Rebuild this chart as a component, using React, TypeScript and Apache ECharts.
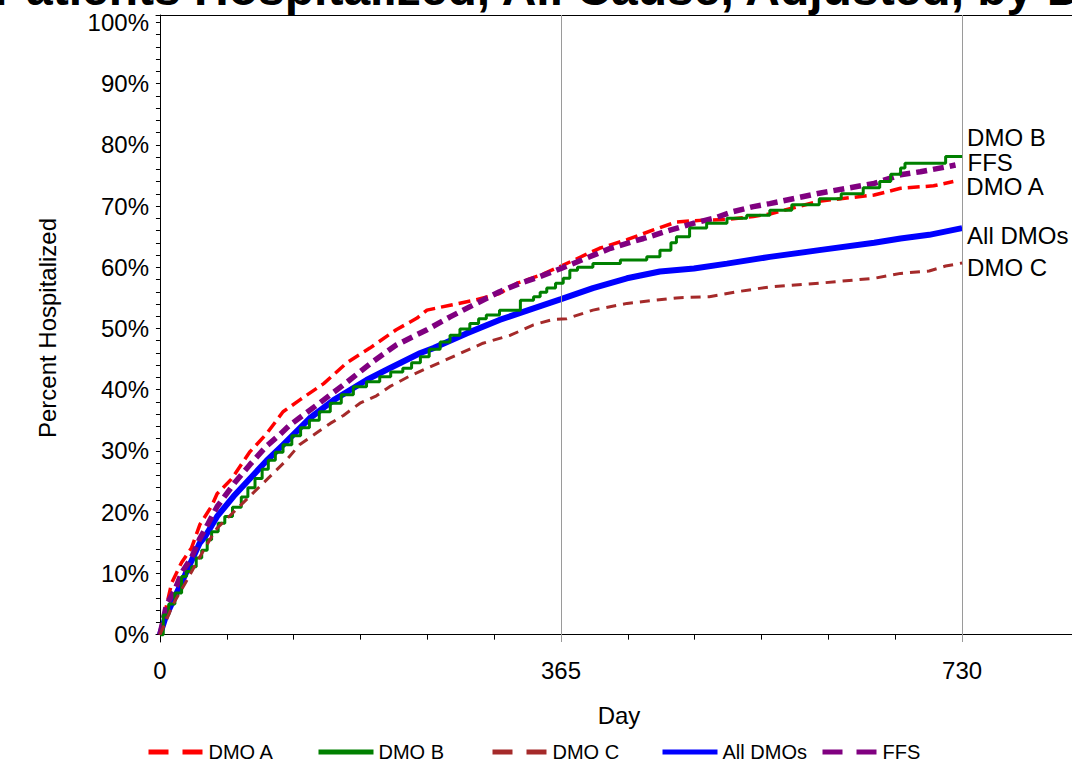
import React, { useEffect, useRef } from "react";
import * as echarts from "echarts";

const FONT = "'Liberation Sans', Arial, sans-serif";

const SERIES_NAMES = ["DMO A", "DMO B", "DMO C", "All DMOs", "FFS"];
const LEGEND_LEFT = [146, 316, 490, 660, 820];

const X_TICKS = [0, 60.83, 121.67, 182.5, 243.33, 304.17, 365, 425.83, 486.67, 547.5, 608.33, 669.17, 730];
const X_LABELS = [0, 365, 730];
const X_GRIDLINES = [365, 730];
const Y_LABELS = [0, 10, 20, 30, 40, 50, 60, 70, 80, 90, 100];
const Y_TICKS = [0, 2, 4, 6, 8, 10, 12, 14, 16, 18, 20, 22, 24, 26, 28, 30, 32, 34, 36, 38, 40, 42, 44, 46, 48, 50, 52, 54, 56, 58, 60, 62, 64, 66, 68, 70, 72, 74, 76, 78, 80, 82, 84, 86, 88, 90, 92, 94, 96, 98, 100];

const dmoA = [
  [0, 0], [5, 4], [10.6, 8.4], [19.7, 11.8], [28.8, 14.2], [36.4, 18.0], [47, 21.0], [52, 23.0], [65, 25.4], [82, 29.9],
  [97, 32.8], [112, 36.4], [127, 38.3], [149, 41.0], [170, 44.4], [191, 46.8], [215, 49.8], [234, 51.7], [243, 53.0],
  [264, 53.8], [288, 54.7], [309, 55.7], [325, 57.4], [346, 58.7], [365, 60.2], [400, 63.1], [425, 64.5], [449, 66.1],
  [470, 67.4], [495, 67.7], [516, 67.8], [540, 68.3], [555, 68.7], [600, 70.8], [650, 71.8], [674, 72.9], [704, 73.3],
  [722, 74.0],
];

const dmoB = [
  [0, 0], [3, 3.2], [8, 5.0], [13.6, 6.8], [19.7, 9.5], [24, 10.3], [28.8, 11.1], [33, 12.5], [38, 13.8], [43, 15.5],
  [47, 16.8], [53, 18.2], [59, 19.3], [66, 20.8], [74, 22.5], [80, 24.0], [86.5, 25.5], [93, 27.0], [98.6, 28.5],
  [105, 29.8], [112, 31.0], [120, 32.5], [128, 33.8], [136, 35.0], [145, 36.4], [155, 37.8], [165, 39.2], [176, 40.5],
  [188, 41.3], [200, 42.1], [210, 42.9], [221, 43.5], [229, 44.4], [237, 45.4], [245, 46.6], [255, 47.8], [264, 48.9],
  [273, 49.9], [282, 50.8], [290, 51.6], [297, 52.2], [309, 53.0], [328, 54.6], [340, 55.2], [346, 55.9], [352, 56.6],
  [360, 57.4], [367, 58.2], [373, 59.5], [380, 60.0], [394, 60.6], [419, 61.2], [443, 61.7], [455, 62.8], [465, 64.0],
  [470, 65.0], [482, 66.4], [497.5, 67.2], [516, 68.0], [534, 68.5], [555, 69.3], [575, 70.2], [600, 71.2], [620, 72.0],
  [640, 73.0], [655, 74.0], [665, 75.2], [674, 76.2], [678, 77.0], [715, 78.1], [730, 78.1],
];

const dmoC = [
  [0, 0], [5, 2.0], [12, 5.0], [23, 8.4], [35, 12.3], [47, 16.0], [52, 17.4], [67, 20.0], [84, 23.0], [100, 25.8],
  [114, 28.3], [127, 31.0], [143, 33.0], [155, 34.5], [167, 35.8], [182, 37.8], [197, 39.0], [209, 40.5], [228, 42.3],
  [258, 44.7], [294, 47.6], [319, 48.9], [340, 50.6], [358, 51.5], [370, 51.6], [394, 53.0], [425, 54.1], [470, 55.0],
  [500, 55.2], [525, 56.0], [555, 56.8], [600, 57.4], [650, 58.2], [674, 59.0], [700, 59.4], [715, 60.2], [730, 60.7],
];

const allDmos = [
  [0, 0], [5, 2.8], [13.6, 6.2], [21, 9.0], [26, 11.0], [36, 14.9], [41, 16.0], [52, 19.3], [67, 22.6], [82, 25.5],
  [97, 28.4], [112, 31.0], [136, 35.3], [158, 38.3], [188, 41.6], [209, 43.5], [237, 46.0], [249, 46.8], [279, 49.2],
  [309, 51.4], [340, 53.3], [365, 54.8], [394, 56.6], [425, 58.2], [455, 59.3], [486, 59.8], [516, 60.6], [555, 61.7],
  [600, 62.8], [650, 64.0], [674, 64.7], [700, 65.3], [730, 66.4],
];

const ffs = [
  [0, 0], [6, 4.9], [13.6, 7.3], [20, 10.2], [29, 12.7], [36, 15.6], [44, 18.2], [52, 20.9], [68, 24.8], [82, 27.8],
  [97, 30.8], [108, 32.5], [118, 34.2], [145, 37.8], [170, 41.2], [193, 44.5], [215, 47.3], [234, 49.0], [243, 49.8],
  [264, 51.9], [288, 54.1], [309, 56.0], [328, 57.4], [346, 58.5], [365, 59.8], [388, 61.5], [410, 63.1], [440, 64.7],
  [465, 66.1], [486, 67.2], [504, 68.0], [522, 69.1], [540, 69.9], [555, 70.4], [600, 72.1], [650, 73.7], [674, 75.1],
  [692, 75.6], [716, 76.4], [724, 76.7],
];

const LEGEND_DASH: Record<string, any> = {
  "DMO A": [20, 14],
  "DMO B": "solid",
  "DMO C": [20, 14],
  "All DMOs": "solid",
  FFS: [20, 14],
};

export default function App() {
  const ref = useRef<HTMLDivElement>(null);
  useEffect(() => {
    if (!ref.current) return;
    const chart = echarts.init(ref.current, undefined, { renderer: "svg" });

    const line = (
      name: string,
      data: number[][],
      color: string,
      width: number,
      type: any,
      z: number,
      offset: number[],
      step?: string
    ) => ({
      type: "line",
      name,
      data,
      step: step || false,
      showSymbol: false,
      symbol: "none",
      z,
      clip: false,
      lineStyle: { color, width, type, cap: "butt" },
      itemStyle: { color },
      emphasis: { disabled: true },
      endLabel: {
        show: true,
        formatter: () => name,
        offset,
        fontSize: 24,
        color: "#000",
        fontFamily: FONT,
      },
    });

    const legends = SERIES_NAMES.map((n, i) => ({
      data: [{ name: n, lineStyle: { type: LEGEND_DASH[n], width: 5 } }],
      left: LEGEND_LEFT[i],
      top: 742,
      padding: 0,
      itemWidth: 55,
      itemHeight: 14,
      itemStyle: { opacity: 0 },
      textStyle: { fontSize: 20, color: "#000", fontFamily: FONT },
      selectedMode: false,
    }));

    chart.setOption({
      animation: false,
      backgroundColor: "#fff",
      grid: { left: 156, right: 0, top: 15, bottom: 123, containLabel: false },
      xAxis: [
        {
          type: "value",
          min: -3.6,
          max: 830,
          axisLine: { show: true, lineStyle: { color: "#000", width: 1 } },
          axisTick: { show: true, length: 5, customValues: X_TICKS, lineStyle: { color: "#000" } },
          axisLabel: {
            show: true,
            customValues: X_LABELS,
            margin: 16,
            fontSize: 24,
            color: "#000",
            fontFamily: FONT,
          },
          splitLine: { show: false },
        },
        {
          type: "value",
          position: "top",
          min: -3.6,
          max: 830,
          axisLine: { show: true, lineStyle: { color: "#000", width: 1 } },
          axisTick: { show: false },
          axisLabel: { show: false },
          splitLine: { show: false },
        },
      ],
      yAxis: {
        type: "value",
        min: -1.2,
        max: 101.2,
        axisLine: { show: true, lineStyle: { color: "#000", width: 1 } },
        axisTick: { show: true, length: 4, customValues: Y_TICKS, lineStyle: { color: "#000" } },
        axisLabel: {
          show: true,
          customValues: Y_LABELS,
          formatter: (v: number) => `${v}%`,
          margin: 7,
          fontSize: 24,
          color: "#000",
          fontFamily: FONT,
        },
        splitLine: { show: false },
      },
      legend: legends,
      graphic: [
        {
          type: "text",
          left: -6,
          top: -36,
          style: {
            text: "Patients Hospitalized, All Cause, Adjusted, by DMO",
            fontSize: 48,
            fontWeight: "bold",
            fill: "#000",
            fontFamily: FONT,
          },
        },
        {
          type: "text",
          x: 47,
          y: 328,
          rotation: Math.PI / 2,
          style: {
            text: "Percent Hospitalized",
            fontSize: 24,
            fill: "#000",
            align: "center",
            verticalAlign: "middle",
            fontFamily: FONT,
          },
        },
        {
          type: "text",
          x: 619,
          y: 715,
          style: {
            text: "Day",
            fontSize: 24,
            fill: "#000",
            align: "center",
            verticalAlign: "middle",
            fontFamily: FONT,
          },
        },
      ],
      series: [
        line(SERIES_NAMES[0], dmoA, "#ff0000", 3.5, [12, 6], 4, [5, 5]),
        line(SERIES_NAMES[1], dmoB, "#008000", 3, "solid", 6, [-3, -19], "end"),
        line(SERIES_NAMES[2], dmoC, "#a52a2a", 3, [10, 7], 7, [-3, 5]),
        line(SERIES_NAMES[3], allDmos, "#0000ff", 6, "solid", 3, [-3, 7]),
        line(SERIES_NAMES[4], ffs, "#800080", 5.5, [11, 6], 5, [4, -3]),
        {
          type: "line",
          name: "_grid",
          data: [],
          z: 1,
          silent: true,
          markLine: {
            silent: true,
            symbol: ["none", "none"],
            label: { show: false },
            lineStyle: { color: "#9a9a9a", width: 1, type: "solid" },
            emphasis: { disabled: true },
            data: X_GRIDLINES.map((d) => ({ xAxis: d })),
          },
        },
      ],
    });
    return () => chart.dispose();
  }, []);
  return (
    <div
      ref={ref}
      style={{ position: "fixed", left: 0, top: 0, width: 1072, height: 765, background: "#fff" }}
    />
  );
}
